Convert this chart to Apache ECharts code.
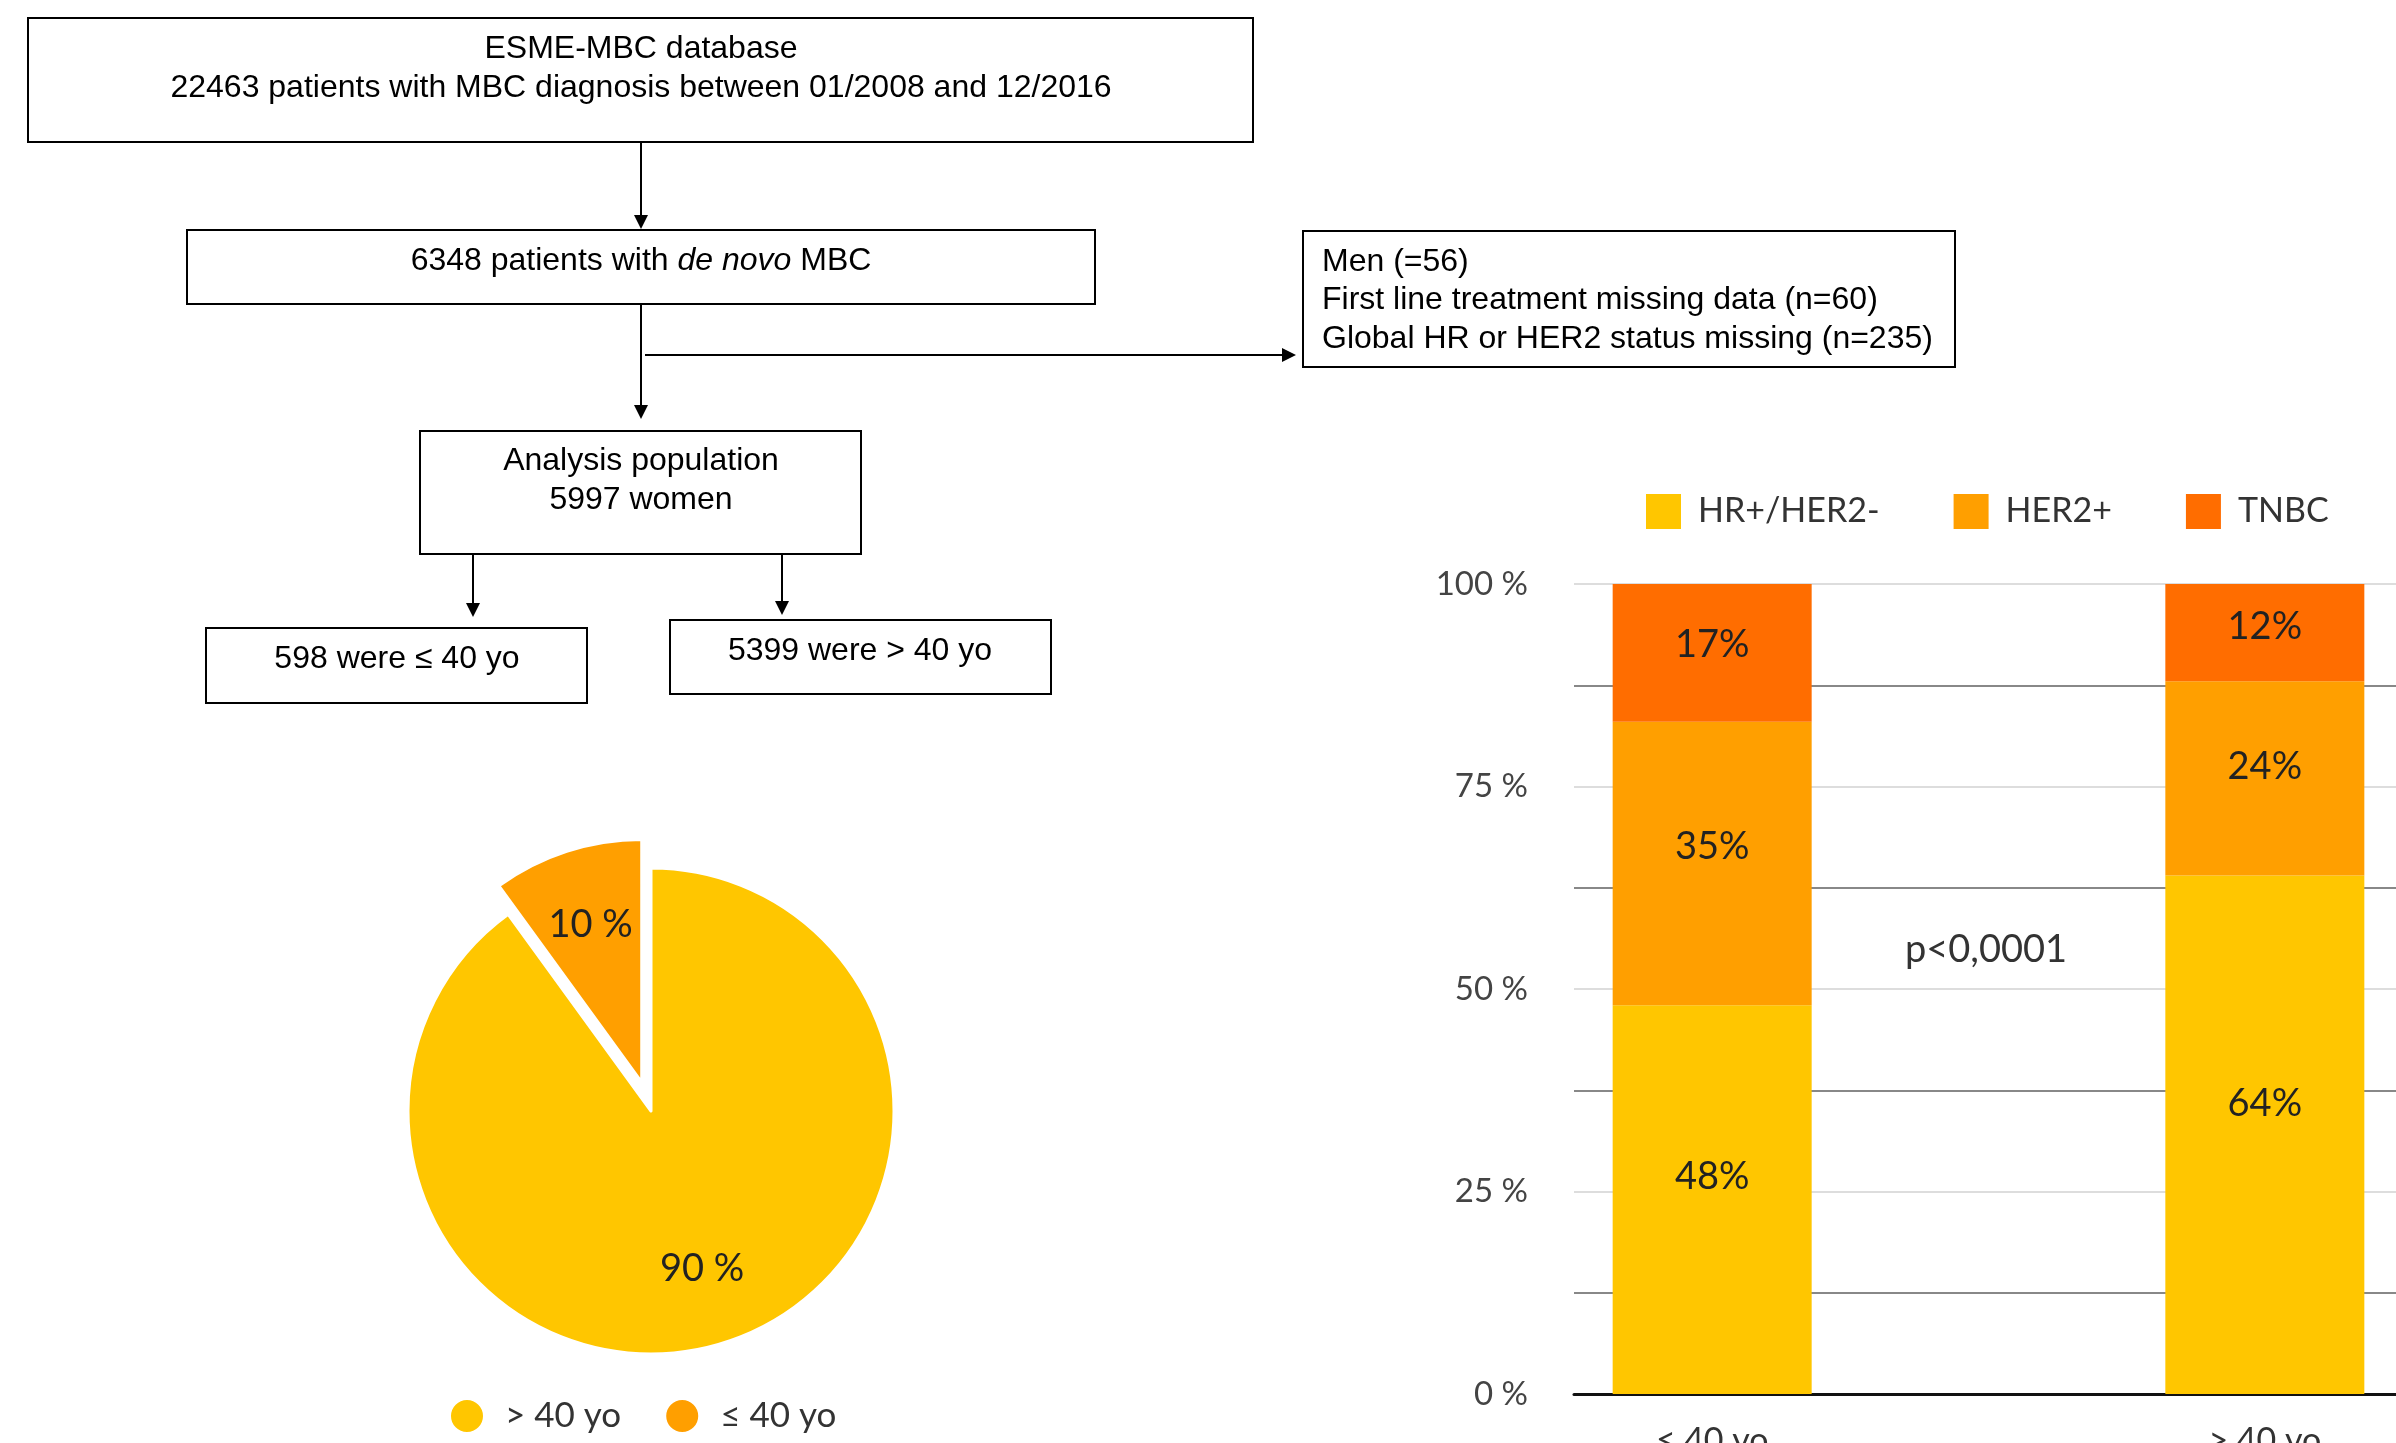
<!DOCTYPE html>
<html>
<head>
<meta charset="utf-8">
<script src="https://cdn.jsdelivr.net/npm/echarts@6/dist/echarts.min.js"></script>
<style>
html,body{margin:0;padding:0;background:#fff;}
#chart{width:2396px;height:1443px;}
</style>
</head>
<body>
<div id="chart"></div>
<script>
// ---- data ----
const flowTop = ['ESME-MBC database', '22463 patients with MBC diagnosis between 01/2008 and 12/2016'];
const flowDeNovo = '6348 patients with {i|de novo} MBC';
const flowExcluded = ['Men (=56)', 'First line treatment missing data (n=60)', 'Global HR or HER2 status missing (n=235)'];
const flowAnalysis = ['Analysis population', '5997 women'];
const flowYoung = '598 were \u2264 40 yo';
const flowOld = '5399 were > 40 yo';

const pieNames = ['> 40 yo', '\u2264 40 yo'];
const pieValues = [90, 10];
const pieColors = ['#FFC600', '#FF9F00'];

const barCategories = ['\u2264 40 yo', '', '> 40 yo'];
const seriesNames = ['HR+/HER2-', 'HER2+', 'TNBC'];
const hrPosHer2Neg = [48, null, 64];
const her2Pos = [35, null, 24];
const tnbc = [17, null, 12];
const barColors = ['#FFC600', '#FF9F00', '#FF6D00'];
const yTicks = [0, 25, 50, 75, 100];
const pValueText = 'p<0,0001';

// ---- helpers for flowchart ----
const FF = '"Liberation Sans", Arial, sans-serif';
const flowFont = '32px ' + FF;
function box(x, y, w, h) {
  return { type: 'rect', shape: { x: x, y: y, width: w, height: h },
    style: { fill: 'transparent', stroke: '#000', lineWidth: 2 }, silent: true };
}
function txt(t, x, y, align, extra) {
  const s = { text: t, x: x, y: y, textAlign: align || 'center', textVerticalAlign: 'middle', font: flowFont, fill: '#000' };
  if (extra) Object.assign(s, extra);
  return { type: 'text', style: s, silent: true };
}
function line(x1, y1, x2, y2) {
  return { type: 'line', shape: { x1: x1, y1: y1, x2: x2, y2: y2 }, style: { stroke: '#000', lineWidth: 2 }, silent: true };
}
function arrowDown(x, y) {
  return { type: 'polygon', shape: { points: [[x - 7, y - 14], [x + 7, y - 14], [x, y]] }, style: { fill: '#000' }, silent: true };
}
function arrowRight(x, y) {
  return { type: 'polygon', shape: { points: [[x - 14, y - 7], [x - 14, y + 7], [x, y]] }, style: { fill: '#000' }, silent: true };
}

const graphics = [
  box(28, 18, 1225, 124),
  txt(flowTop[0], 641, 49),
  txt(flowTop[1], 641, 88),
  line(641, 142, 641, 216), arrowDown(641, 229),
  box(187, 230, 908, 74),
  txt(flowDeNovo, 641, 261, 'center', { rich: { i: { font: 'italic 32px ' + FF, fill: '#000' } } }),
  line(641, 304, 641, 405), arrowDown(641, 419),
  line(645, 355, 1282, 355), arrowRight(1296, 355),
  box(1303, 231, 652, 136),
  txt(flowExcluded[0], 1322, 262, 'left'),
  txt(flowExcluded[1], 1322, 300, 'left'),
  txt(flowExcluded[2], 1322, 339, 'left'),
  box(420, 431, 441, 123),
  txt(flowAnalysis[0], 641, 461),
  txt(flowAnalysis[1], 641, 500),
  line(473, 554, 473, 603), arrowDown(473, 617),
  line(782, 554, 782, 601), arrowDown(782, 615),
  box(206, 628, 381, 75),
  txt(flowYoung, 397, 659),
  box(670, 620, 381, 74),
  txt(flowOld, 860, 651),
  { type: 'text', style: { text: pValueText, x: 1986, y: 950, textAlign: 'center', textVerticalAlign: 'middle',
      font: '38px Lato, sans-serif', fill: '#333' }, silent: true }
];

const LF = 'Lato, "Open Sans", sans-serif';
const pieData = pieNames.map((n, i) => ({ name: n, value: pieValues[i], selected: i === 1, itemStyle: { color: pieColors[i] } }));
const pieLabelData = pieNames.map((n, i) => ({ name: n, value: pieValues[i], selected: i === 1 }));

const barLabel = { show: true, position: ['50%', '44%'], align: 'center', verticalAlign: 'middle',
  formatter: '{c}%', fontFamily: LF, fontSize: 38, color: '#222' };

const chart = echarts.init(document.getElementById('chart'), null, { renderer: 'canvas' });
chart.setOption({
  animation: false,
  backgroundColor: '#fff',
  graphic: graphics,
  legend: [
    {
      data: seriesNames.map((n, i) => ({ name: n, itemStyle: { color: barColors[i] } })),
      left: 1646, top: 494, padding: 0, icon: 'rect', itemWidth: 35, itemHeight: 35, itemGap: 74,
      textStyle: { fontFamily: LF, fontSize: 34, color: '#333', padding: [0, 0, 0, 12] },
      selectedMode: false
    },
    {
      data: pieNames.map((n, i) => ({ name: n, itemStyle: { color: pieColors[i] } })),
      left: 449, top: 1398, padding: 0, icon: 'circle', itemWidth: 34, itemHeight: 34, itemGap: 43,
      textStyle: { fontFamily: LF, fontSize: 35, color: '#333', padding: [0, 0, 0, 16] },
      selectedMode: false
    }
  ],
  grid: { left: 1574, right: -7, top: 584, bottom: 49, containLabel: false, outerBoundsMode: 'none' },
  xAxis: {
    type: 'category', data: barCategories,
    axisLine: { show: true, lineStyle: { color: '#111', width: 3 } },
    axisTick: { show: false },
    axisLabel: { fontFamily: LF, fontSize: 34, color: '#333', margin: 30 },
    splitLine: { show: false }
  },
  yAxis: {
    type: 'value', min: yTicks[0], max: yTicks[yTicks.length - 1], interval: 25,
    axisLine: { show: false }, axisTick: { show: false },
    axisLabel: { formatter: '{value} %', fontFamily: LF, fontSize: 33, color: '#444', margin: 46 },
    splitLine: { show: true, lineStyle: { color: '#DDDDDD', width: 2 } },
    minorTick: { show: false, splitNumber: 2 },
    minorSplitLine: { show: true, lineStyle: { color: '#888888', width: 2 } }
  },
  series: [
    { name: seriesNames[0], type: 'bar', stack: 's', data: hrPosHer2Neg, barWidth: 199,
      itemStyle: { color: barColors[0] }, label: barLabel },
    { name: seriesNames[1], type: 'bar', stack: 's', data: her2Pos, barWidth: 199,
      itemStyle: { color: barColors[1] }, label: barLabel },
    { name: seriesNames[2], type: 'bar', stack: 's', data: tnbc, barWidth: 199,
      itemStyle: { color: barColors[2] }, label: barLabel },
    { name: 'age', type: 'pie', center: [651, 1111], radius: [0, 243], startAngle: 90, clockwise: true,
      selectedMode: 'single', selectedOffset: 30, data: pieData, silent: true,
      itemStyle: { borderColor: '#fff', borderWidth: 3 },
      label: { show: false }, labelLine: { show: false } },
    { name: 'ageLabels', type: 'pie', center: [651, 1111], radius: [82, 243], startAngle: 90, clockwise: true,
      selectedMode: 'single', selectedOffset: 30, data: pieLabelData, silent: true, z: 3,
      itemStyle: { color: 'transparent', borderWidth: 0 },
      label: { show: true, position: 'inside', formatter: '{c} %', fontFamily: LF, fontSize: 38, color: '#222' },
      labelLine: { show: false }, emphasis: { disabled: true } }
  ]
});
</script>
</body>
</html>
